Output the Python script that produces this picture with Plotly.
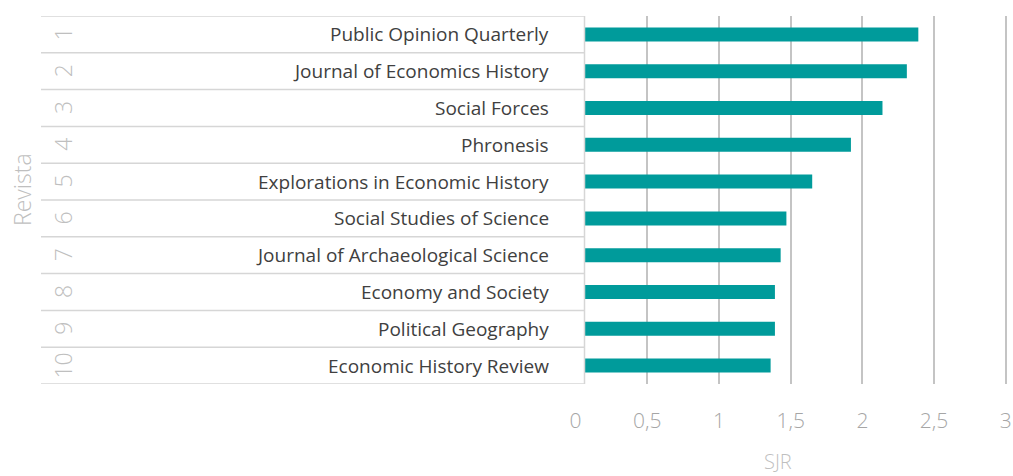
import plotly.graph_objects as go

ranks = ["1", "2", "3", "4", "5", "6", "7", "8", "9", "10"]
journals = [
    "Public Opinion Quarterly",
    "Journal of Economics History",
    "Social Forces",
    "Phronesis",
    "Explorations in Economic History",
    "Social Studies of Science",
    "Journal of Archaeological Science",
    "Economy and Society",
    "Political Geography",
    "Economic History Review",
]
sjr = [2.39, 2.31, 2.14, 1.92, 1.65, 1.47, 1.43, 1.39, 1.39, 1.36]
x_ticks = [0, 0.5, 1, 1.5, 2, 2.5, 3]

W, H = 1013, 476
def px(x):
    return x / W
def py(y):
    return 1 - y / H

FONT = "Open Sans"
TEAL = "#009B9B"
GRID = "#C4C4C4"
LINE = "#D6D6D6"

ypos = list(range(len(journals)))

fig = go.Figure()
fig.add_trace(go.Bar(
    x=sjr, y=ypos, orientation="h",
    marker=dict(color=TEAL, line=dict(width=0)),
    width=0.38, showlegend=False, hoverinfo="x",
))

shapes = []
shapes.append(dict(type="rect", xref="paper", yref="paper",
                   x0=px(41), x1=px(584), y0=py(384), y1=py(16),
                   fillcolor="white", line=dict(width=0), layer="above"))
for i in range(len(journals) + 1):
    shapes.append(dict(type="line", xref="paper", yref="y",
                       x0=px(41), x1=px(584.5), y0=i - 0.5, y1=i - 0.5,
                       line=dict(color=LINE, width=1.5), layer="above"))
shapes.append(dict(type="line", xref="paper", yref="y",
                   x0=px(584.5), x1=px(584.5), y0=-0.5, y1=len(journals) - 0.5,
                   line=dict(color=LINE, width=1.5), layer="above"))

annotations = []
for i, (r, j) in enumerate(zip(ranks, journals)):
    annotations.append(dict(x=px(551), y=i, xref="paper", yref="y",
                            text=j, showarrow=False, xanchor="right", yanchor="middle",
                            font=dict(family=FONT, size=19, color="#404040")))
    annotations.append(dict(x=px(63), y=i, xref="paper", yref="y",
                            text=r, showarrow=False, textangle=-90,
                            xanchor="center", yanchor="middle",
                            font=dict(family=FONT, size=23, color="#BFBFBF", weight=300)))
annotations.append(dict(x=px(22), y=py(190), xref="paper", yref="paper",
                        text="Revista", showarrow=False, textangle=-90,
                        xanchor="center", yanchor="middle",
                        font=dict(family=FONT, size=23, color="#BFBFBF", weight=300)))
annotations.append(dict(x=px(778), y=py(461), xref="paper", yref="paper",
                        text="SJR", showarrow=False,
                        xanchor="center", yanchor="middle",
                        font=dict(family=FONT, size=20, color="#BFBFBF", weight=300)))

fig.update_layout(
    width=W, height=H,
    margin=dict(l=0, r=0, t=0, b=0),
    paper_bgcolor="white", plot_bgcolor="white",
    separators=",.",
    shapes=shapes,
    annotations=annotations,
    xaxis=dict(
        domain=[px(575.6), px(1009)],
        range=[0, (1009 - 575.6) / 143.4],
        tickvals=x_ticks,
        showgrid=True, gridcolor=GRID, gridwidth=2,
        zeroline=False, showline=False, ticks="",
        tickfont=dict(family=FONT, size=21, color="#A6A6A6", weight=300),
        ticklabelstandoff=22,
        automargin=False,
        fixedrange=True,
    ),
    yaxis=dict(
        domain=[py(384), py(16)],
        range=[len(journals) - 0.5, -0.5],
        showticklabels=False, showgrid=False, zeroline=False, showline=False,
        ticks="", automargin=False, fixedrange=True,
    ),
)

fig.write_html("out.html", config={"displayModeBar": False},
               post_script="document.body.style.margin='0';document.body.style.overflow='hidden';")
